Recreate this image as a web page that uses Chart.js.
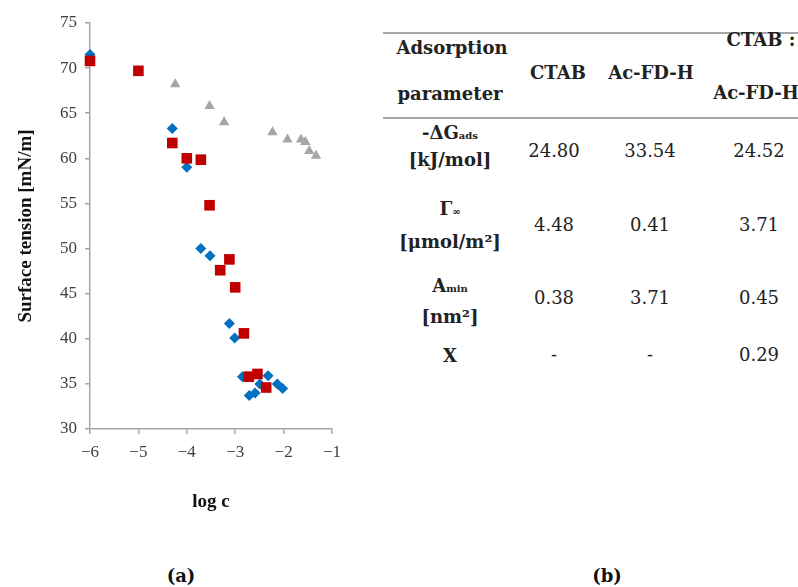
<!DOCTYPE html>
<html>
<head>
<meta charset="utf-8">
<script src="https://cdn.jsdelivr.net/npm/chart.js@4.4.0/dist/chart.umd.min.js"></script>
<style>
  html, body { margin: 0; padding: 0; background: #fff; }
  body { width: 798px; height: 587px; position: relative; overflow: hidden; }
  #plot { position: absolute; left: 0; top: 0; }
  .rule { position: absolute; left: 383px; width: 420px; height: 2px; background: #a6a6a6; }
  .cell { position: absolute; transform: translate(-50%, -50%); white-space: nowrap;
          font-family: "DejaVu Serif", serif; font-size: 18px; color: #222; line-height: 20px; }
  .b { font-weight: bold; }
  .sm { font-size: 10px; }
  .caption { position: absolute; transform: translate(-50%, -50%); font-family: "DejaVu Serif", serif;
             font-weight: bold; font-size: 18px; color: #111; }
</style>
</head>
<body>
<canvas id="plot" width="370" height="530"></canvas>
<div id="table"></div>
<div class="caption" style="left:181px; top:575px">(a)</div>
<div class="caption" style="left:607px; top:575px">(b)</div>
<script>
// ---- data ----
const ctabLogC    = [-6.00, -4.30, -4.00, -3.71, -3.52, -3.12, -3.01, -2.85, -2.71, -2.59, -2.49, -2.32, -2.13, -2.02]
const ctabTension = [71.5, 63.3, 59.0, 50.0, 49.2, 41.7, 40.1, 35.8, 33.7, 34.0, 35.0, 35.9, 35.0, 34.5]

const mixLogC    = [-6.00, -5.00, -4.30, -4.00, -3.71, -3.53, -3.31, -3.12, -3.00, -2.82, -2.72, -2.54, -2.36]
const mixTension = [70.8, 69.7, 61.7, 60.0, 59.85, 54.8, 47.6, 48.8, 45.7, 40.6, 35.8, 36.1, 34.6]

const acfdLogC    = [-4.24, -3.53, -3.23, -2.23, -1.92, -1.64, -1.55, -1.47, -1.33]
const acfdTension = [68.2, 65.8, 64.0, 62.9, 62.1, 62.1, 61.8, 60.8, 60.3]

const xTickLabels = ['\u22126', '\u22125', '\u22124', '\u22123', '\u22122', '\u22121']
const yTickLabels = ['30', '35', '40', '45', '50', '55', '60', '65', '70', '75']

// table (b)
const tableHeaders = [['Adsorption', 'parameter'], ['CTAB'], ['Ac-FD-H'], ['CTAB :', 'Ac-FD-H']]
const paramLabels  = [['-\u0394G<span class="sm">ads</span>', '[kJ/mol]'],
                      ['\u0393<span class="sm">\u221e</span>', '[\u03bcmol/m\u00b2]'],
                      ['A<span class="sm">min</span>', '[nm\u00b2]'],
                      ['X']]
const ctabValues = ['24.80', '4.48', '0.38', '-']
const acfdValues = ['33.54', '0.41', '3.71', '-']
const mixValues  = ['24.52', '3.71', '0.45', '0.29']


// ---- table layout ----
let tableDiv = document.getElementById("table")
let colX = [450, 554, 650, 759]
let headerX = [[452, 450], [558], [651], [761, 756]]
let headerY = [[48, 94], [73], [73], [40, 93]]
let labelY = [[134, 160], [210, 242], [287, 317], [356]]
let valueY = [151, 225, 298, 355]

function put(html, x, y, bold) {
    let d = document.createElement("div")
    d.className = "cell" + (bold ? " b" : "")
    d.style.left = x + "px"
    d.style.top = y + "px"
    d.innerHTML = html
    tableDiv.appendChild(d)
}

;[33, 118].forEach(function(y) {
    let r = document.createElement("div")
    r.className = "rule"
    r.style.top = (y - 1) + "px"
    tableDiv.appendChild(r)
})

tableHeaders.forEach(function(lines, c) {
    lines.forEach(function(t, k) { put(t, headerX[c][k], headerY[c][k], true) })
})
paramLabels.forEach(function(lines, r) {
    lines.forEach(function(t, k) { put(t, colX[0], labelY[r][k], true) })
    put(ctabValues[r], colX[1], valueY[r], false)
    put(acfdValues[r], colX[2], valueY[r], false)
    put(mixValues[r], colX[3], valueY[r], false)
})


// ---- chart (a) ----
function points(xs, ys) {
    return xs.map(function(x, i) { return { x: x, y: ys[i] } })
}

let axisGrey = '#a6a6a6'
let tickFont = { family: 'Liberation Serif', size: 17 }
let titleFont = { family: 'Liberation Serif', size: 19, weight: 'bold' }

let chart = new Chart(document.getElementById("plot"), {
    type: 'scatter',
    data: {
        datasets: [{
            label: 'CTAB',
            data: points(ctabLogC, ctabTension),
            pointStyle: 'rectRot',
            pointRadius: 5.5,
            backgroundColor: '#0070C0',
            borderWidth: 0,
            order: 3,
            clip: false
        }, {
            label: 'CTAB : Ac-FD-H',
            data: points(mixLogC, mixTension),
            pointStyle: 'rect',
            pointRadius: 7.5,
            backgroundColor: '#C00000',
            borderWidth: 0,
            order: 1,
            clip: false
        }, {
            label: 'Ac-FD-H',
            data: points(acfdLogC, acfdTension),
            pointStyle: 'triangle',
            pointRadius: 6,
            backgroundColor: '#A5A5A5',
            borderWidth: 0,
            order: 2,
            clip: false
        }]
    },
    options: {
        responsive: false,
        animation: false,
        layout: { padding: { left: 0, top: 23, right: 38, bottom: 0 } },
        plugins: { legend: { display: false }, tooltip: { enabled: false } },
        scales: {
            x: {
                type: 'linear', min: -6, max: -1,
                afterFit: function(s) { s.height = 101 },
                ticks: { stepSize: 1, padding: 8, color: '#404040', font: tickFont,
                         callback: function(v, i) { return xTickLabels[i] } },
                grid: { drawOnChartArea: false, drawTicks: true, tickLength: 5, color: axisGrey, lineWidth: 1.5 },
                border: { color: axisGrey, width: 1.5 },
                title: { display: true, text: 'log c', color: '#111', font: titleFont,
                         padding: { top: 0, bottom: 17 } }
            },
            y: {
                type: 'linear', min: 30, max: 75,
                afterFit: function(s) { s.width = 90 },
                ticks: { stepSize: 5, padding: 8, color: '#404040', font: tickFont,
                         callback: function(v, i) { return yTickLabels[i] } },
                grid: { drawOnChartArea: false, drawTicks: true, tickLength: 5, color: axisGrey, lineWidth: 1.5 },
                border: { color: axisGrey, width: 1.5 },
                title: { display: true, text: 'Surface tension [mN/m]', color: '#111', font: titleFont,
                         padding: { top: 15, bottom: 0 } }
            }
        }
    }
})
</script>
</body>
</html>
